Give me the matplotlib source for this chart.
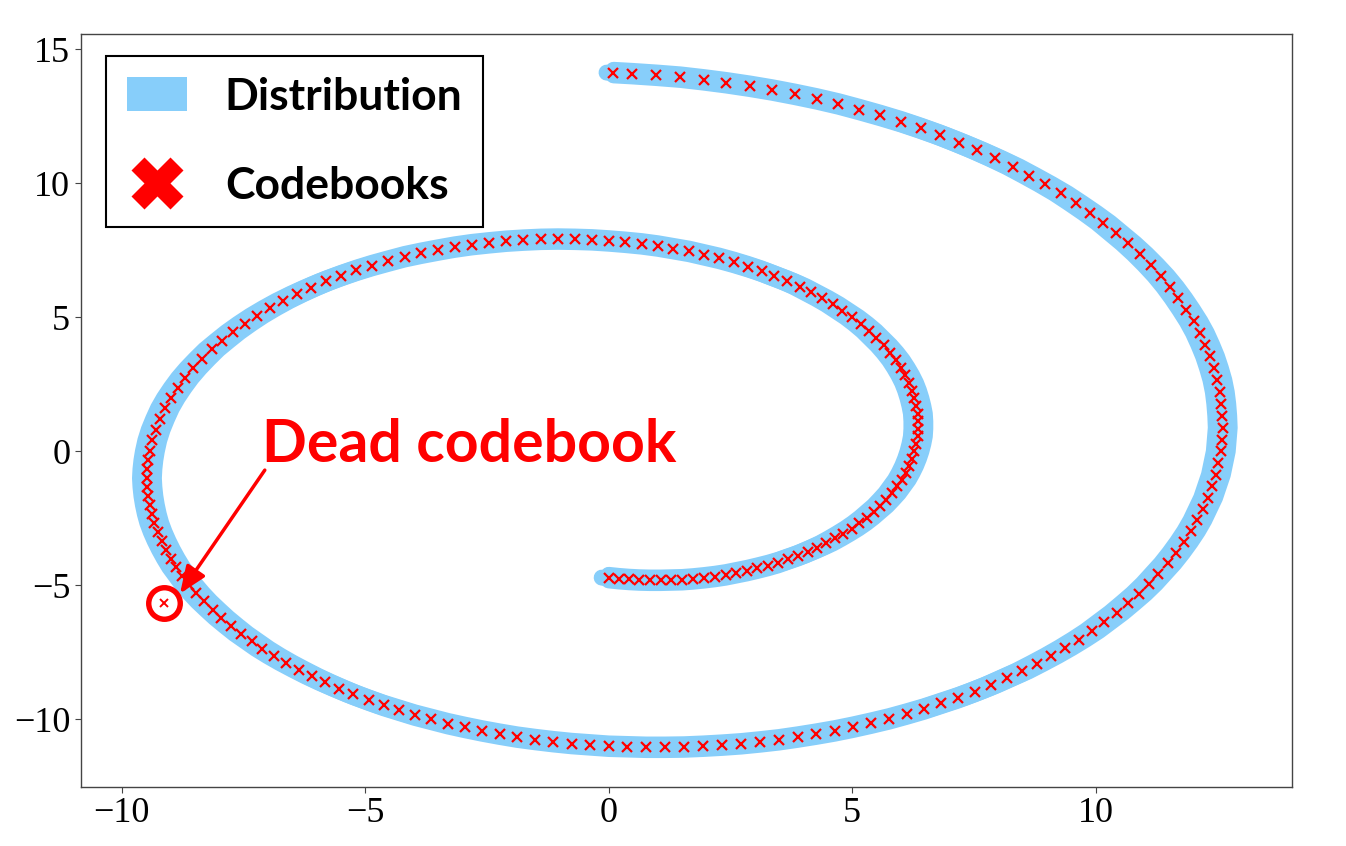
import matplotlib
matplotlib.use("Agg")
import matplotlib.pyplot as plt
from matplotlib.lines import Line2D
from matplotlib.patches import Patch
from matplotlib.transforms import offset_copy

plt.rcParams['font.family'] = ['Liberation Serif', 'DejaVu Serif']

# codebook positions read along the spiral, inner end -> outer end
# first turn (inner arm, around to the left side)
inner_x = [0.00, 0.21, 0.42, 0.63, 0.85, 1.07, 1.29, 1.51, 1.73, 1.95,
           2.18, 2.40, 2.62, 2.84, 3.05, 3.27, 3.48, 3.68, 3.89, 4.09,
           4.28, 4.47, 4.65, 4.82, 4.99, 5.15, 5.30, 5.44, 5.58, 5.70,
           5.82, 5.92, 6.02, 6.10, 6.17, 6.23, 6.28,
           6.32, 6.35, 6.36, 6.36, 6.35, 6.32, 6.28, 6.23, 6.17, 6.09,
           6.00, 5.90, 5.78, 5.65, 5.50, 5.35, 5.18, 5.00, 4.80, 4.60,
           4.38, 4.15, 3.92, 3.67, 3.40, 3.14, 2.86, 2.57, 2.27, 1.96,
           1.65, 1.33, 1.01, 0.68, 0.34, 0.00,
           -0.34, -0.69, -1.04, -1.39, -1.75, -2.10, -2.45, -2.81, -3.16, -3.50,
           -3.85, -4.19, -4.52, -4.86, -5.18, -5.50, -5.81, -6.11, -6.40, -6.69,
           -6.96, -7.22, -7.47, -7.71, -7.93, -8.15, -8.34, -8.53, -8.70, -8.85,
           -8.99, -9.11, -9.21, -9.30, -9.37, -9.42]
inner_y = [-4.71, -4.75, -4.78, -4.80, -4.81, -4.81, -4.80, -4.79, -4.76, -4.72,
           -4.67, -4.61, -4.53, -4.45, -4.36, -4.26, -4.15, -4.02, -3.89, -3.74,
           -3.59, -3.43, -3.25, -3.07, -2.88, -2.68, -2.47, -2.25, -2.03, -1.80,
           -1.56, -1.31, -1.06, -0.80, -0.54, -0.27, 0.00,
           0.28, 0.56, 0.84, 1.12, 1.41, 1.69, 1.98, 2.27, 2.55, 2.84,
           3.12, 3.40, 3.68, 3.95, 4.22, 4.49, 4.75, 5.00, 5.24, 5.48,
           5.71, 5.93, 6.15, 6.35, 6.54, 6.72, 6.89, 7.05, 7.20, 7.33,
           7.46, 7.56, 7.66, 7.74, 7.80, 7.85,
           7.89, 7.91, 7.92, 7.91, 7.88, 7.84, 7.78, 7.71, 7.62, 7.51,
           7.39, 7.26, 7.10, 6.93, 6.75, 6.55, 6.34, 6.11, 5.87, 5.61,
           5.34, 5.06, 4.76, 4.45, 4.13, 3.80, 3.46, 3.10, 2.74, 2.37,
           1.99, 1.61, 1.21, 0.81, 0.41, 0.00]

# second turn (outer arm, bottom -> right -> top)
outer_x = [-9.45, -9.47, -9.48, -9.47, -9.45, -9.42, -9.38, -9.33, -9.26, -9.18,
           -9.09, -8.99, -8.88, -8.75, -8.62, -8.47, -8.31, -8.13, -7.95, -7.75,
           -7.55, -7.33, -7.11, -6.87, -6.62, -6.36, -6.09, -5.82, -5.53, -5.24,
           -4.93, -4.62, -4.30, -3.98, -3.64, -3.30, -2.95, -2.60, -2.24, -1.88,
           -1.51, -1.14, -0.76, -0.38, 0.00,
           0.38, 0.77, 1.16, 1.55, 1.94, 2.33, 2.72, 3.11, 3.50, 3.88,
           4.26, 4.64, 5.02, 5.39, 5.76, 6.12, 6.48, 6.83, 7.18, 7.52,
           7.85, 8.17, 8.49, 8.79, 9.09, 9.38, 9.66, 9.93, 10.18, 10.43,
           10.66, 10.89, 11.10, 11.29, 11.48, 11.65, 11.81, 11.96, 12.09, 12.20,
           12.31, 12.39, 12.47, 12.52, 12.57,
           12.59, 12.61, 12.60, 12.58, 12.55, 12.50, 12.43, 12.35, 12.25, 12.14,
           12.01, 11.86, 11.70, 11.53, 11.34, 11.13, 10.91, 10.67, 10.42, 10.16,
           9.88, 9.59, 9.29, 8.97, 8.64, 8.30, 7.94, 7.57, 7.20, 6.81,
           6.41, 6.00, 5.58, 5.15, 4.72, 4.27, 3.82, 3.36, 2.90, 2.42,
           1.95, 1.47, 0.98, 0.49, 0.10]
outer_y = [-0.33, -0.66, -1.00, -1.33, -1.67, -2.00, -2.34, -2.67, -3.01, -3.34,
           -3.67, -4.00, -4.33, -4.65, -4.97, -5.29, -5.60, -5.91, -6.21, -6.51,
           -6.80, -7.08, -7.36, -7.63, -7.89, -8.14, -8.39, -8.62, -8.85, -9.07,
           -9.28, -9.48, -9.66, -9.84, -10.00, -10.16, -10.30, -10.43, -10.55, -10.66,
           -10.75, -10.83, -10.90, -10.95, -11.00,
           -11.02, -11.04, -11.04, -11.03, -11.00, -10.96, -10.91, -10.84, -10.76, -10.66,
           -10.55, -10.43, -10.29, -10.14, -9.98, -9.80, -9.61, -9.40, -9.19, -8.96,
           -8.72, -8.46, -8.20, -7.92, -7.63, -7.33, -7.02, -6.70, -6.36, -6.02,
           -5.67, -5.31, -4.94, -4.56, -4.18, -3.79, -3.39, -2.98, -2.57, -2.15,
           -1.73, -1.30, -0.87, -0.44, 0.00,
           0.44, 0.88, 1.32, 1.77, 2.21, 2.66, 3.10, 3.54, 3.98, 4.42,
           4.85, 5.28, 5.71, 6.13, 6.55, 6.96, 7.36, 7.76, 8.14, 8.53,
           8.90, 9.26, 9.62, 9.96, 10.29, 10.62, 10.93, 11.23, 11.51, 11.79,
           12.05, 12.30, 12.53, 12.75, 12.96, 13.15, 13.32, 13.48, 13.62, 13.75,
           13.86, 13.96, 14.03, 14.09, 14.13]

code_x = inner_x + outer_x
code_y = inner_y + outer_y

# the codebook that is off the data
dead_x = [-9.12]
dead_y = [-5.67]

band_color = '#87CEFA'

fig = plt.figure(figsize=(13.46, 8.46), dpi=100)
ax = fig.add_axes([0.05996, 0.0701, 0.9002, 0.8894])

# distribution band, drawn a few times with small shifts to get the width
for dx, dy in [(-5, 0), (5, 0), (0, -2), (0, 2)]:
    tr = offset_copy(ax.transData, fig=fig, x=dx, y=dy, units='points')
    ax.plot(code_x, code_y, color=band_color, lw=11.5, solid_capstyle='round',
            solid_joinstyle='round', transform=tr, zorder=1)

ax.plot(code_x, code_y, ls='none', marker='x', ms=6.5, mew=1.6, color='red', zorder=3)

# dead codebook with ring
ax.plot(dead_x, dead_y, ls='none', marker='x', ms=5.5, mew=1.4, color='red', zorder=4)
ax.plot(dead_x, dead_y, ls='none', marker='o', ms=22.7, mew=3.9, mec='red',
        mfc='none', zorder=4)

ax.text(-7.12, -0.39, 'Dead codebook', ha='left', va='baseline', color='red',
        fontsize=42.5, family='Lato', fontweight='bold', zorder=5)
ax.annotate('', xy=(-8.80, -5.30), xytext=(-7.06, -0.70),
            arrowprops=dict(arrowstyle='-|>,head_length=1.1,head_width=0.45',
                            color='red', lw=2.5, mutation_scale=15,
                            shrinkA=0, shrinkB=0), zorder=5)

ax.set_xlim(-10.84, 14.04)
ax.set_ylim(-12.51, 15.56)
ax.set_xticks([-10, -5, 0, 5, 10])
ax.set_yticks([-10, -5, 0, 5, 10, 15])
ax.tick_params(labelsize=26, color='#444444', length=4)
for s in ax.spines.values():
    s.set_color('#444444')
    s.set_linewidth(1.0)

handles = [Patch(facecolor=band_color, edgecolor='none'),
           Line2D([], [], ls='none', marker='X', ms=37, color='red', mec='none')]
leg = ax.legend(handles, ['Distribution', 'Codebooks'], loc='upper left',
                bbox_to_anchor=(0.0206, 0.9716), borderaxespad=0,
                prop={'family': 'Lato', 'weight': 'bold', 'size': 32},
                fancybox=False, edgecolor='black', framealpha=1,
                handlelength=1.37, handleheight=0.77, handletextpad=0.84,
                borderpad=0.47, labelspacing=1.12)
leg.get_frame().set_linewidth(1.5)

fig.savefig('out.png', dpi=100)
